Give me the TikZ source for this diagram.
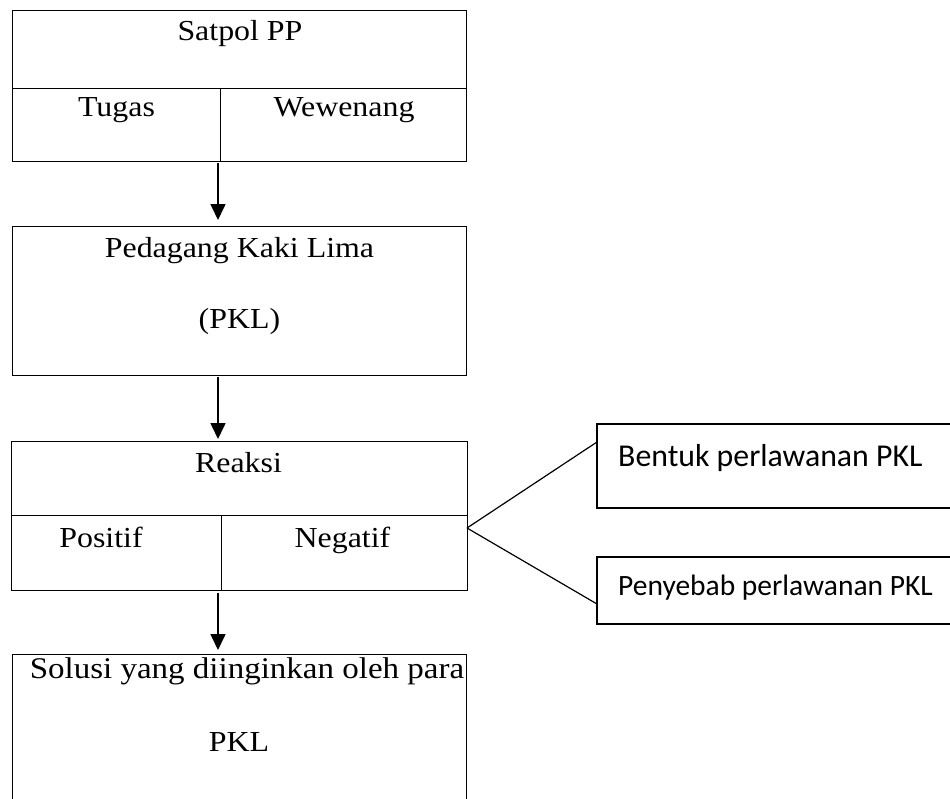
\documentclass[tikz,border=0pt]{standalone}
\usepackage{fontspec}
\setmainfont{Liberation Serif}
\newfontfamily\wideserif[FakeStretch=1.1]{Liberation Serif}
\newfontfamily\calfont{Carlito}
\usetikzlibrary{arrows.meta}
\begin{document}
\begin{tikzpicture}[x=1pt,y=-1pt,
  frame/.style={draw, line width=1pt, inner sep=0pt, outer sep=0pt},
  rframe/.style={draw, line width=1.4pt, inner sep=0pt, outer sep=0pt},
  lbl/.style={font=\wideserif\fontsize{29}{34}\selectfont, anchor=base, inner sep=0pt},
  clbl/.style={font=\calfont\fontsize{31.8}{36}\selectfont, anchor=base west, inner sep=0pt},
  arr/.style={-{Triangle[width=15pt,length=16pt]}, line width=1.6pt},
  link/.style={line width=1.2pt}]
\useasboundingbox (0,0) rectangle (950,798);
\fill[white] (0,0) rectangle (950,798);

% boxes
\node[frame, minimum width=454pt, minimum height=151pt] (satpol) at (239,85.5) {};
\node[frame, minimum width=454pt, minimum height=149pt] (pkl) at (239,300.5) {};
\node[frame, minimum width=456pt, minimum height=149pt] (reaksi) at (239,515.5) {};
\node[frame, minimum width=454pt, minimum height=176pt] (solusi) at (239,742) {};
\node[rframe, minimum width=363pt, minimum height=84pt] (bentuk) at (778.5,466) {};
\node[rframe, minimum width=363pt, minimum height=67pt] (penyebab) at (778.5,590.5) {};

% dividers
\draw[line width=1pt] (12,88) -- (466,88);
\draw[line width=1pt] (220,88) -- (220,161);
\draw[line width=1pt] (11,515) -- (467,515);
\draw[line width=1pt] (221,515) -- (221,590);

% texts
\node[lbl] (t1) at (240,40) {Satpol PP};
\node[lbl] (t2) at (116.5,116) {Tugas};
\node[lbl] (t3) at (344,116) {Wewenang};
\node[lbl] (t4) at (239.5,257) {Pedagang Kaki Lima};
\node[lbl] (t5) at (239.5,328) {(PKL)};
\node[lbl] (t6) at (238.5,472) {Reaksi};
\node[lbl] (t7) at (101,547) {Positif};
\node[lbl] (t8) at (342.5,547) {Negatif};
\node[lbl, font=\wideserif\fontsize{30}{34}\selectfont] (t9) at (247,678) {Solusi yang diinginkan oleh para};
\node[lbl] (t10) at (239,751) {PKL};
\node[clbl] (t11) at (618,466) {Bentuk perlawanan PKL};
\node[clbl, font=\calfont\fontsize{29.5}{36}\selectfont] (t12) at (618,595) {Penyebab perlawanan PKL};

% arrows
\draw[arr, shorten <=2pt, shorten >=6pt] ([xshift=-21pt]satpol.south) -- ([xshift=-21pt]pkl.north);
\draw[arr, shorten <=2pt, shorten >=2pt] ([xshift=-21pt]pkl.south) -- ([xshift=-21pt]reaksi.north);
\draw[arr, shorten <=3pt, shorten >=4pt] ([xshift=-21pt]reaksi.south) -- ([xshift=-21pt]solusi.north);

% links
\coordinate (fork) at ([yshift=-12.5pt]reaksi.east);
\draw[link] (fork) -- ([yshift=24pt]bentuk.west);
\draw[link] (fork) -- ([yshift=-13.5pt]penyebab.west);
\end{tikzpicture}
\end{document}
